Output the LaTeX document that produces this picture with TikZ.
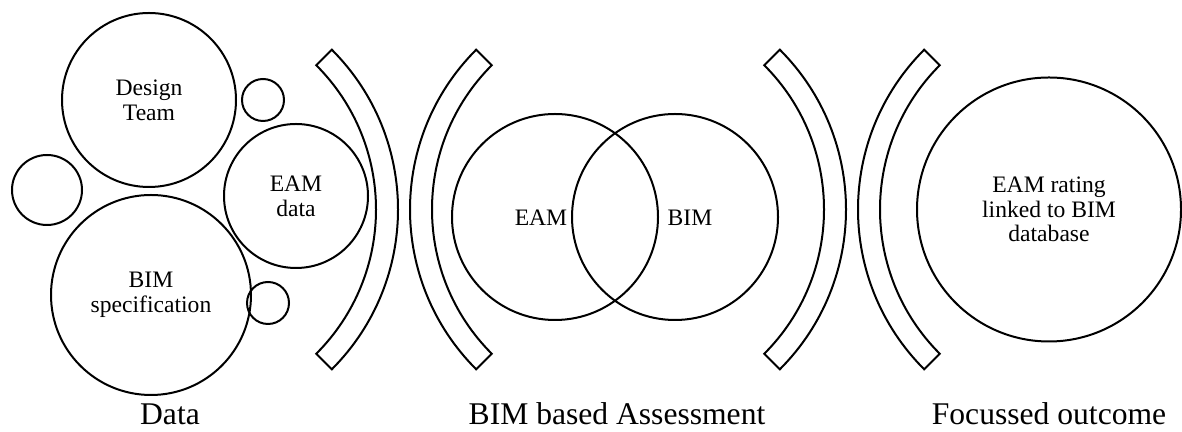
\documentclass[tikz,border=0pt]{standalone}
\usepackage{fontspec}
\setmainfont{Liberation Serif}
\usepackage{tikz}

\begin{document}
\begin{tikzpicture}[x=0.5pt, y=0.5pt, line width=1pt,
    bubble/.style={draw, circle, inner sep=0pt, align=center,
        font=\fontsize{11.8}{12.4}\selectfont},
    stage/.style={anchor=base, font=\fontsize{15.8}{17}\selectfont},
    band/.style={draw, line join=miter}]
    \useasboundingbox (0, 0) rectangle (1182, 432);

    % data bubbles
    \node[bubble, minimum size=87pt] (team) at (149, 332) {Design\\Team};
    \node[bubble, minimum size=21pt] (dotA) at (263, 332) {};
    \node[bubble, minimum size=35pt] (dotB) at (47, 242) {};
    \node[bubble, minimum size=72pt] (eamdata) at (296, 236) {EAM\\data};
    \node[bubble, minimum size=100pt] (bimspec) at (151, 137) {BIM\\specification};
    \node[bubble, minimum size=21pt] (dotC) at (268, 129) {};

    % brackets
    \foreach \cx/\a in {172/-45, 620/-45, 636/135, 1084/135}
        \draw[band] (\cx, 222.5) ++(\a:102pt)
            arc[start angle=\a, delta angle=90, radius=102pt]
            -- ++(\a+90:11pt)
            arc[start angle=\a+90, delta angle=-90, radius=113pt]
            -- cycle;

    % assessment
    \node[bubble, minimum size=103pt] (eam) at (555, 215) {};
    \node[bubble, minimum size=103pt] (bim) at (675, 215) {};
    \node[font=\fontsize{11.8}{12.4}\selectfont] (eamlabel) at (541, 214) {EAM};
    \node[font=\fontsize{11.8}{12.4}\selectfont] (bimlabel) at (690, 214) {BIM};

    % outcome
    \node[bubble, minimum size=132pt] (outcome) at (1049, 222.5)
        {EAM rating\\linked to BIM\\database};

    \node[stage] (data) at (170, 7) {Data};
    \node[stage] (assess) at (617, 7) {BIM based Assessment};
    \node[stage] (focus) at (1049, 7) {Focussed outcome};
\end{tikzpicture}
\end{document}
